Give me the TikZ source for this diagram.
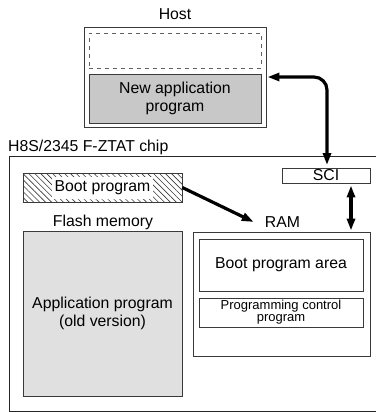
\documentclass[tikz,border=0pt]{standalone}
\usepackage{fontspec}
\setmainfont{Liberation Sans}
\usetikzlibrary{arrows.meta,patterns.meta}
\definecolor{edge}{HTML}{3A3A3A}
\definecolor{darkfill}{HTML}{C8C8C8}
\definecolor{lightfill}{HTML}{E0E0E0}
\begin{document}
\begin{tikzpicture}[x=1pt,y=-1pt,
  box/.style={draw=edge, line width=0.9pt, inner sep=0pt, anchor=center},
  lbl/.style={font=\fontsize{15.8}{18.5}\selectfont, align=center, inner sep=0pt},
  small/.style={font=\fontsize{13}{11.8}\selectfont, align=center, inner sep=0pt},
  arr/.style={line width=3.2pt, >={Triangle[length=12pt,width=8pt]}},
  frame/.style={draw=black!85, line width=1pt},
]
\useasboundingbox (0,0) rectangle (376,412);

% Host
\node[lbl] (hostlbl) at (175,14) {Host};
\node[box, minimum width=182pt, minimum height=100pt] (host) at (175,77) {};
\node[box, dashed, dash pattern=on 4pt off 4pt, draw=edge!80, minimum width=172pt, minimum height=35pt] (spare) at (175,50.5) {};
\node[box, fill=darkfill, minimum width=172pt, minimum height=49pt, lbl] (newapp) at (175,98.5) {New application\\program};

% Chip (its right side lies beyond the picture)
\node[lbl, anchor=west] (chiplbl) at (8,147) {H8S/2345 F-ZTAT chip};
\node[inner sep=0pt, minimum width=366pt, minimum height=254pt] (chip) at (193,284) {};
\draw[frame] (chip.north east) -- (chip.north west) -- (chip.south west) -- (chip.south east);

% SCI
\node[box, minimum width=88pt, minimum height=15pt, lbl] (sci) at (326,175.5) {SCI};

% Boot program (hatched)
\node[box, pattern={Lines[angle=-45,distance=4.2pt,line width=0.6pt]}, pattern color=edge, minimum width=159pt, minimum height=29pt] (boot) at (102.5,187.5) {};
\node[lbl, fill=white, inner xsep=2.5pt, minimum height=22pt] (boottxt) at (102.5,187.5) {Boot program};

% Flash memory
\node[lbl] (flashlbl) at (103,222) {Flash memory};
\node[box, fill=lightfill, minimum width=159pt, minimum height=165pt, lbl] (flash) at (102.5,313.5) {Application program\\(old version)};

% RAM
\node[lbl] (ramlbl) at (282.5,222) {RAM};
\node[box, minimum width=177pt, minimum height=124pt] (ram) at (281.5,294) {};
\node[box, minimum width=164pt, minimum height=52pt, lbl] (bootarea) at (281,265) {Boot program area};
\node[box, minimum width=164pt, minimum height=29pt, small] (progctl) at (281,312.5) {Programming control\\program};

% Connectors
\draw[arr, <->, rounded corners=13pt, shorten <=1pt, shorten >=2.5pt] (host.east) -| ([xshift=1pt]sci.north);
\draw[arr, <->, shorten <=2pt, shorten >=1pt] ([xshift=25pt]sci.south) -- ([xshift=25pt]sci.south |- ram.north);
\draw[arr, ->] (boot.east) -- ([xshift=-11pt]ramlbl.west);
\end{tikzpicture}
\end{document}
